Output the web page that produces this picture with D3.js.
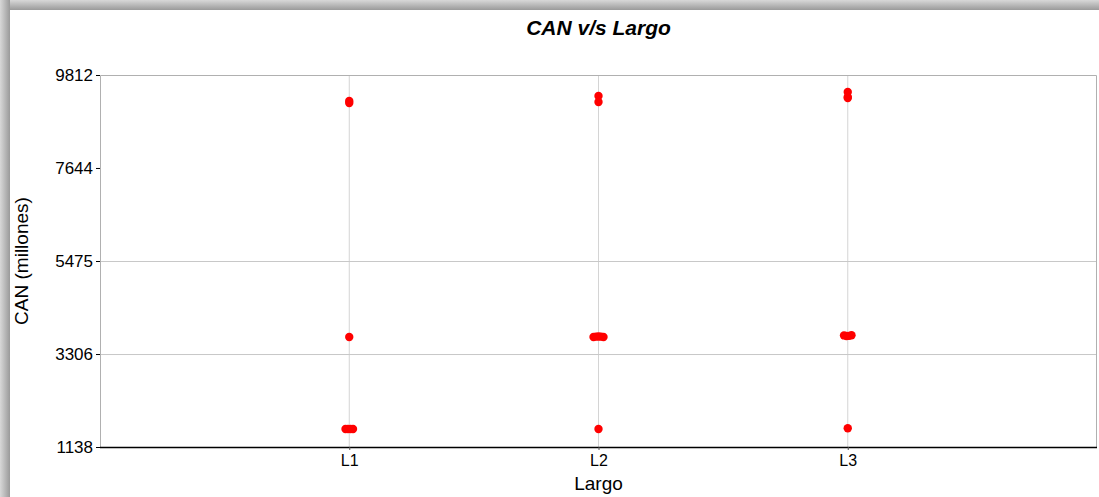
<!DOCTYPE html>
<html>
<head>
<meta charset="utf-8">
<script src="https://cdn.jsdelivr.net/npm/d3@7"></script>
<style>
  body { margin: 0; background: #fff; }
  svg text { font-family: Arial, "Liberation Sans", sans-serif; fill: #000; }
</style>
</head>
<body>
<div class="chart"></div>
<script>
"use strict";
// categories and ticks
const categories = ["L1", "L2", "L3"];
const yTicks = [1138, 3306, 5475, 7644, 9812];
// points: x is category position (1..3) with slight scatter, y is CAN (millones)
const pointX = [
  1.00, 1.00, 1.00, 0.985, 0.995, 1.005, 1.015,
  2.00, 2.00, 1.98, 1.99, 2.00, 2.01, 2.02, 2.00,
  3.00, 3.00, 3.00, 2.985, 2.995, 3.005, 3.015, 3.00
];
const pointY = [
  9206, 9159, 3703, 1558, 1558, 1558, 1558,
  9322, 9182, 3703, 3712, 3715, 3712, 3703, 1558,
  9416, 9300, 9276, 3740, 3725, 3730, 3745, 1575
];

let W = 1099, H = 497;
let margin = {top: 75, right: 2, bottom: 50, left: 100};
let width = W - margin.left - margin.right;
let height = H - margin.top - margin.bottom;

let svg = d3.select(".chart").append("svg")
    .attr("width", W)
    .attr("height", H);

// panel shadow
let defs = svg.append("defs");
let gl = defs.append("linearGradient").attr("id", "shL").attr("x1", 0).attr("x2", 1).attr("y1", 0).attr("y2", 0);
gl.append("stop").attr("offset", "0%").attr("stop-color", "#d8d8d8");
gl.append("stop").attr("offset", "100%").attr("stop-color", "#9a9a9a");
let gt = defs.append("linearGradient").attr("id", "shT").attr("x1", 0).attr("x2", 0).attr("y1", 0).attr("y2", 1);
gt.append("stop").attr("offset", "0%").attr("stop-color", "#d8d8d8");
gt.append("stop").attr("offset", "100%").attr("stop-color", "#9a9a9a");
svg.append("rect").attr("x", 0).attr("y", 0).attr("width", W).attr("height", 10).style("fill", "url(#shT)");
svg.append("rect").attr("x", 0).attr("y", 0).attr("width", 10).attr("height", H).style("fill", "url(#shL)");
svg.append("rect").attr("x", 10).attr("y", 10).attr("width", W - 10).attr("height", H - 10).style("fill", "#fff");

let g = svg.append("g")
    .attr("transform", "translate(" + margin.left + "," + margin.top + ")");

let x = d3.scaleLinear().domain([0, categories.length + 1]).range([0, width]);
let y = d3.scaleLinear().domain([1138, 9812]).range([height, 0]);

// grid
g.selectAll(".vgrid").data(categories).enter().append("line")
    .attr("x1", (d, i) => x(i + 1)).attr("x2", (d, i) => x(i + 1))
    .attr("y1", 0).attr("y2", height)
    .style("stroke", "#d4d4d4").style("stroke-width", 1);
g.selectAll(".hgrid").data([3306, 5475]).enter().append("line")
    .attr("x1", 0).attr("x2", width)
    .attr("y1", d => y(d) + 0.5).attr("y2", d => y(d) + 0.5)
    .style("stroke", "#c8c8c8").style("stroke-width", 1);

// frame top/right
g.append("path")
    .attr("d", "M0.5," + height + "V0.5H" + (width - 0.5) + "V" + height)
    .style("fill", "none").style("stroke", "#b0b0b0");

// y axis
let yAxis = d3.axisLeft(y).tickValues(yTicks).tickSize(4).tickPadding(3).tickFormat(d3.format("d"));
let ya = g.append("g").call(yAxis);
ya.select(".domain").remove();
ya.selectAll("line").style("stroke", "#000");
ya.selectAll("text").style("font-size", "17px");

// x axis
let xAxis = d3.axisBottom(x).tickValues([1, 2, 3]).tickSize(3).tickPadding(5)
    .tickFormat(d => categories[d - 1]);
let xa = g.append("g").attr("transform", "translate(0," + height + ")").call(xAxis);
xa.select(".domain").attr("d", "M0,0.5H" + width).style("stroke", "#000").style("stroke-width", 1.5);
xa.selectAll("line").style("stroke", "#555");
xa.selectAll("text").style("font-size", "16px");

// points
g.selectAll(".pt").data(pointY).enter().append("circle")
    .attr("cx", (d, i) => x(pointX[i]))
    .attr("cy", d => y(d))
    .attr("r", 4.2)
    .style("fill", "#ff0000");

// title and labels
svg.append("text")
    .attr("x", margin.left + width / 2).attr("y", 35)
    .attr("text-anchor", "middle")
    .style("font-size", "21px").style("font-weight", "bold").style("font-style", "italic")
    .text("CAN v/s Largo");
svg.append("text")
    .attr("x", margin.left + width / 2).attr("y", 490)
    .attr("text-anchor", "middle")
    .style("font-size", "19px")
    .text("Largo");
svg.append("text")
    .attr("transform", "translate(28," + (margin.top + height / 2) + ") rotate(-90)")
    .attr("text-anchor", "middle")
    .style("font-size", "19px")
    .text("CAN (millones)");
</script>
</body>
</html>
